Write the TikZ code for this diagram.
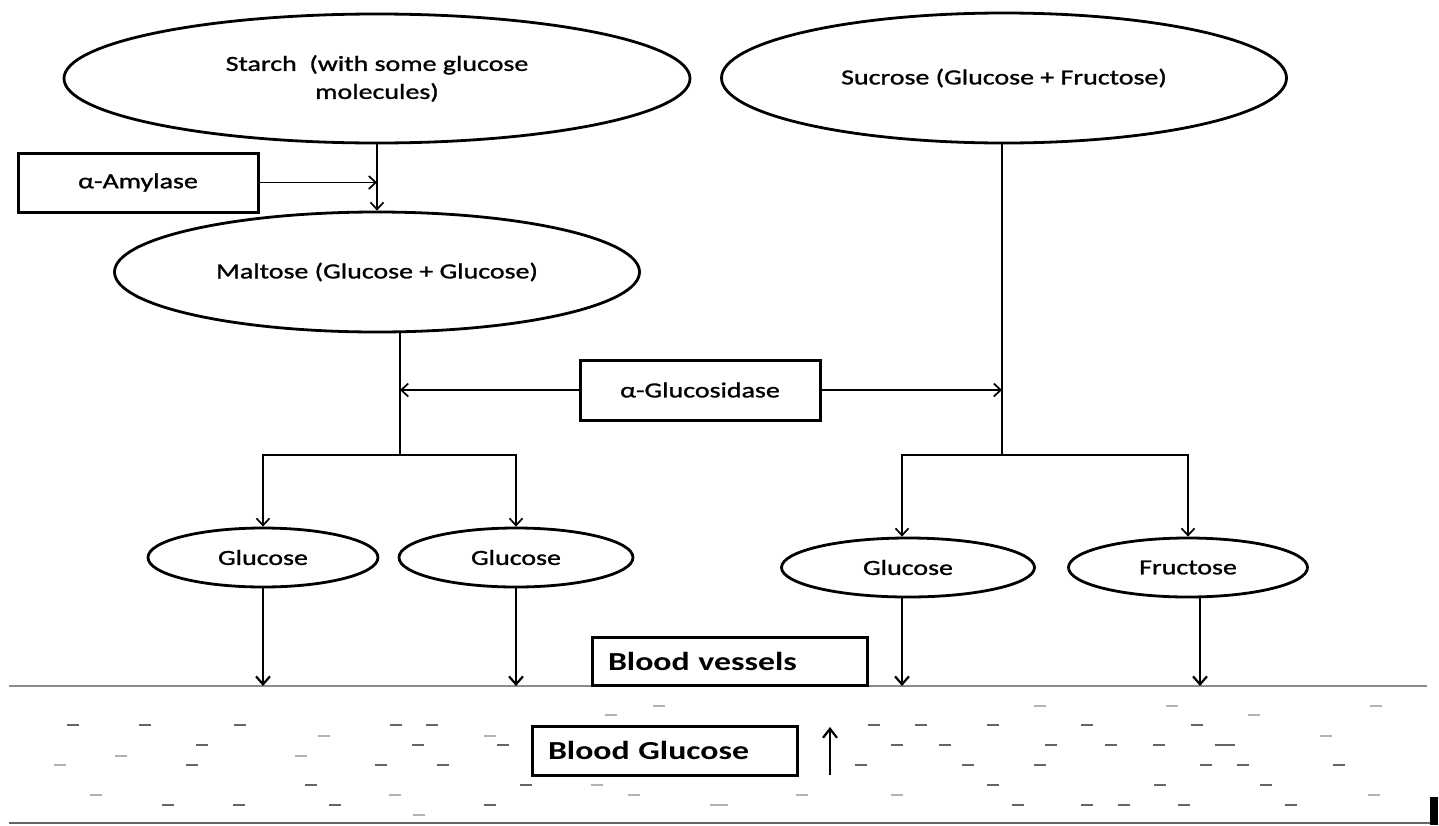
\documentclass[tikz,border=0pt]{standalone}
\usepackage{fontspec}
\setmainfont{Carlito}[FakeStretch=1.3]
\newfontfamily\labfont{Carlito}[FakeStretch=1.3, FakeBold=1.2]
\usetikzlibrary{shapes.geometric,arrows.meta}
\begin{document}
\begin{tikzpicture}[x=1pt,y=-1pt,
  ell/.style={draw, ellipse, line width=2.8pt, inner sep=0pt, align=center,
    font=\labfont\fontsize{21.5}{28}\selectfont},
  boxn/.style={draw, rectangle, line width=3pt, inner sep=0pt,
    font=\labfont\fontsize{21.5}{28}\selectfont},
  bigbox/.style={draw, rectangle, line width=3pt, inner ysep=0pt, inner xsep=16pt,
    align=left, font=\fontsize{26}{30}\selectfont\bfseries},
  conn/.style={line width=1.7pt},
  arr/.style={conn, -{Straight Barb[length=7pt,width=13pt,line width=1.7pt]}},
  arrb/.style={line width=2.2pt, -{Straight Barb[length=8pt,width=14pt,line width=2.2pt]}},
  dshd/.style={line width=2.2pt, black!60},
  dshl/.style={line width=2pt, black!30}
]
\useasboundingbox (0,0) rectangle (1439,825);
\fill[white] (0,0) rectangle (1439,825);

% nodes
\node[ell, minimum width=626pt, minimum height=129pt] (starch) at (377,78.5)
  {Starch\ \ (with some glucose\\molecules)};
\node[ell, minimum width=525pt, minimum height=120pt] (maltose) at (377,272)
  {Maltose (Glucose + Glucose)};
\node[ell, minimum width=565pt, minimum height=130pt] (sucrose) at (1004,78)
  {Sucrose (Glucose + Fructose)};
\node[ell, minimum width=230pt, minimum height=59pt] (g1) at (263,557.5) {Glucose};
\node[ell, minimum width=234pt, minimum height=59pt] (g2) at (516,557.5) {Glucose};
\node[ell, minimum width=253pt, minimum height=59pt] (g3) at (908,567.5) {Glucose};
\node[ell, minimum width=239pt, minimum height=59pt] (fr) at (1188,567.5) {Fructose};
\node[boxn, minimum width=240pt, minimum height=59pt] (amy) at (138,182.5) {α-Amylase};
\node[boxn, minimum width=240pt, minimum height=60pt] (glc) at (700,390) {α-Glucosidase};

% connectors
\coordinate (mj) at (400,455);
\coordinate (sj) at (1002,455);
\draw[arr] (starch.south) -- (maltose.north);
\draw[arr] (amy.east) -- (amy.east -| starch.south);
\draw[conn] (maltose.south -| mj) -- (mj);
\draw[conn] (sucrose.south -| sj) -- (sj);
\draw[arr] (glc.west) -- (glc.west -| mj);
\draw[arr] (glc.east) -- (glc.east -| sj);
\draw[arr] (mj) -| (g1.north);
\draw[arr] (mj) -| (g2.north);
\draw[arr] (sj) -| ([xshift=-6pt]g3.north);
\draw[arr] (sj) -| (fr.north);

% blood vessel lines
\coordinate (bvL) at (9,686);
\coordinate (bvR) at (1427,686);
\draw[black!45, line width=1.3pt] (bvL) -- (bvR);
\coordinate (bL) at (9,823);
\coordinate (bR) at (1432,823);
\draw[black!60, line width=2.6pt] (bL) -- (bR);
\fill[black] (1430,797) rectangle (1438,825);

\draw[arrb] (g1.south) -- (g1.south |- bvL);
\draw[arrb] (g2.south) -- (g2.south |- bvL);
\draw[arrb] ([xshift=-6pt]g3.south) -- ([xshift=-6pt]g3.south |- bvL);
\draw[arrb] ([xshift=12pt]fr.south) -- ([xshift=12pt]fr.south |- bvL);

\node[bigbox, text width=243pt, minimum height=48pt] (bv) at (729.5,661) {Blood vessels};
\node[bigbox, text width=233pt, minimum height=49pt] (bg) at (664.5,750.5) {Blood Glucose};

\coordinate (ua1) at (830,775);
\coordinate (ua2) at (830,727);
\draw[line width=2.2pt, -{Straight Barb[length=9pt,width=14pt,line width=2.2pt]}] (ua1) -- (ua2);

% dashes
\foreach \x/\y in {73/725,145/725,240/725,396/725,432/725,202/745,418/745,503/745,
  192/765,381/765,443/765,311/785,526/785,168/805,239/805,335/805,490/805,
  874/725,921/725,993/725,1087/725,1197/725,897/745,945/745,1051/745,1111/745,1159/745,
  861/765,968/765,1040/765,1206/765,1243/765,1339/765,993/785,1160/785,1266/785,
  1018/805,1087/805,1124/805,1184/805,1291/805}
  \draw[dshd] ({\x-6},\y) -- ({\x+6},\y);
\draw[dshd] (1215,745) -- (1235,745);
\foreach \x/\y in {611/715,659/706,324/736,490/736,121/756,301/756,60/765,96/795,
  395/795,634/795,597/785,419/815,716/805,1040/706,1172/706,1376/706,1254/715,
  1326/736,802/795,897/795,1374/795,722/805}
  \draw[dshl] ({\x-6},\y) -- ({\x+6},\y);
\end{tikzpicture}
\end{document}
